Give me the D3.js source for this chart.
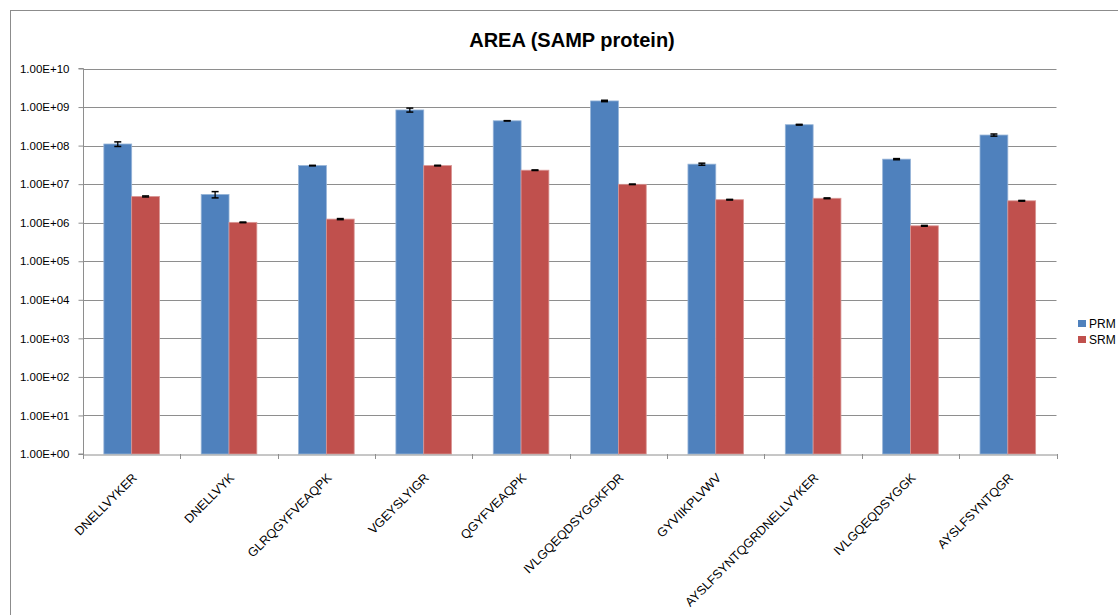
<!DOCTYPE html>
<html><head><meta charset="utf-8">
<script src="https://cdn.jsdelivr.net/npm/d3@7"></script>
<style>body{margin:0;background:#fff;} svg{display:block;} text{font-family:"Liberation Sans","Noto Sans",sans-serif;}</style>
</head><body>
<svg id="c" width="1118" height="615"></svg>
<script>
const categories = ["DNELLVYKER","DNELLVYK","GLRQGYFVEAQPK","VGEYSLYIGR","QGYFVEAQPK","IVLGQEQDSYGGKFDR","GYVIIKPLVWV","AYSLFSYNTQGRDNELLVYKER","IVLGQEQDSYGGK","AYSLFSYNTQGR"];
const seriesNames = ["PRM","SRM"];
const prmValues = [1.1e8, 5.4e6, 3.03e7, 8.4e8, 4.4e8, 1.44e9, 3.3e7, 3.48e8, 4.45e7, 1.88e8];
const prmErrors = [1.5e7, 1.0e6, 5e5, 1.0e8, 4e6, 6e7, 2e6, 8e6, 1.5e6, 1.2e7];
const srmValues = [4.8e6, 1.02e6, 1.24e6, 3.03e7, 2.3e7, 9.9e6, 3.95e6, 4.3e6, 8.3e5, 3.7e6];
const srmErrors = [1.5e5, 2e4, 4e4, 6e5, 4e5, 1.5e5, 8e4, 1e5, 2e4, 8e4];
const yTickValues = [1e0,1e1,1e2,1e3,1e4,1e5,1e6,1e7,1e8,1e9,1e10];
const yTickLabels = ["1.00E+00","1.00E+01","1.00E+02","1.00E+03","1.00E+04","1.00E+05","1.00E+06","1.00E+07","1.00E+08","1.00E+09","1.00E+10"];
const titleText = "AREA (SAMP protein)";
const colors = ["#4F81BD","#C0504D"];

const svg = d3.select("#c");
// chart frame
svg.append("rect").attr("x",10.5).attr("y",10.5).attr("width",1200).attr("height",700)
  .attr("fill","none").attr("stroke","#8c8c8c").attr("stroke-width",1);

const L = 83, R = 1056.5, T = 68.5, B = 454;
const x0 = d3.scaleBand().domain(categories).range([L, R]).paddingInner(0).paddingOuter(0);
const y = d3.scaleLog().domain([1, 1e10]).range([B, T]);
const gapFrac = 1.5/(2+1.5);
const x1 = d3.scaleBand().domain(seriesNames).range([x0.bandwidth()*gapFrac/2, x0.bandwidth()*(1-gapFrac/2)]).padding(0);

// gridlines
svg.append("g").selectAll("line").data(yTickValues.slice(1)).join("line")
  .attr("x1",L).attr("x2",R).attr("y1",d=>Math.round(y(d))+0.5).attr("y2",d=>Math.round(y(d))+0.5)
  .attr("stroke","#8e8e8e").attr("stroke-width",1);

// y axis
const yAxis = d3.axisLeft(y).tickValues(yTickValues).tickFormat((d,i)=>yTickLabels[i]).tickSize(5).tickPadding(9);
const gy = svg.append("g").attr("transform",`translate(${L+0.5},0)`).call(yAxis);
gy.select(".domain").attr("stroke","#8e8e8e").attr("d",`M-5,${B}H0V${T}H-5`);
gy.selectAll(".tick line").attr("stroke","#8e8e8e");
gy.selectAll(".tick text").attr("font-size","11.5px").attr("fill","#000").attr("font-family","Liberation Sans");

// bars
const data = categories.map((c,i)=>({c, vals:[
  {s:"PRM", v:prmValues[i], e:prmErrors[i]},
  {s:"SRM", v:srmValues[i], e:srmErrors[i]}]}));
const grp = svg.append("g").selectAll("g").data(data).join("g")
  .attr("transform",d=>`translate(${x0(d.c)},0)`);
grp.selectAll("rect").data(d=>d.vals).join("rect")
  .attr("x",d=>x1(d.s)).attr("width",x1.bandwidth())
  .attr("y",d=>y(d.v)).attr("height",d=>B-y(d.v))
  .attr("fill",(d,i)=>colors[i]).attr("stroke",(d,i)=>i?"#d99694":"#95b3d7").attr("stroke-width",0.8);
// error bars
const eb = grp.selectAll("g.eb").data(d=>d.vals).join("g").attr("class","eb")
  .attr("transform",d=>`translate(${x1(d.s)+x1.bandwidth()/2},0)`);
eb.append("line").attr("x1",0).attr("x2",0).attr("y1",d=>y(d.v+d.e)).attr("y2",d=>y(d.v-d.e)).attr("stroke","#000").attr("stroke-width",1.3);
eb.append("line").attr("x1",-3.5).attr("x2",3.5).attr("y1",d=>y(d.v+d.e)).attr("y2",d=>y(d.v+d.e)).attr("stroke","#000").attr("stroke-width",1.5);
eb.append("line").attr("x1",-3.5).attr("x2",3.5).attr("y1",d=>y(d.v-d.e)).attr("y2",d=>y(d.v-d.e)).attr("stroke","#000").attr("stroke-width",1.5);

// x axis
const xAxis = d3.axisBottom(x0).tickSize(0).tickFormat(d=>d);
const gx = svg.append("g").attr("transform",`translate(0,${B+0.5})`).call(xAxis);
gx.select(".domain").attr("stroke","#8e8e8e");
gx.selectAll(".tick text").attr("font-size","12.5px").attr("fill","#000")
  .attr("text-anchor","end").attr("dy",0).attr("y",0)
  .attr("transform","translate(6,24) rotate(-45)");
// category boundary ticks
svg.append("g").selectAll("line").data(categories.map(c=>x0(c)).concat([R])).join("line")
  .attr("x1",d=>Math.round(d)+0.5).attr("x2",d=>Math.round(d)+0.5).attr("y1",B).attr("y2",B+5)
  .attr("stroke","#8e8e8e");

// title
svg.append("text").attr("x",572).attr("y",47).attr("text-anchor","middle")
  .attr("font-size","20px").attr("font-weight","bold").text(titleText);

// legend
const lg = svg.append("g").selectAll("g").data(seriesNames).join("g")
  .attr("transform",(d,i)=>`translate(1078,${320+i*16})`);
lg.append("rect").attr("width",8).attr("height",7).attr("fill",(d,i)=>colors[i]);
lg.append("text").attr("x",11).attr("y",8).attr("font-size","12px").text(d=>d);
</script>
</body></html>
